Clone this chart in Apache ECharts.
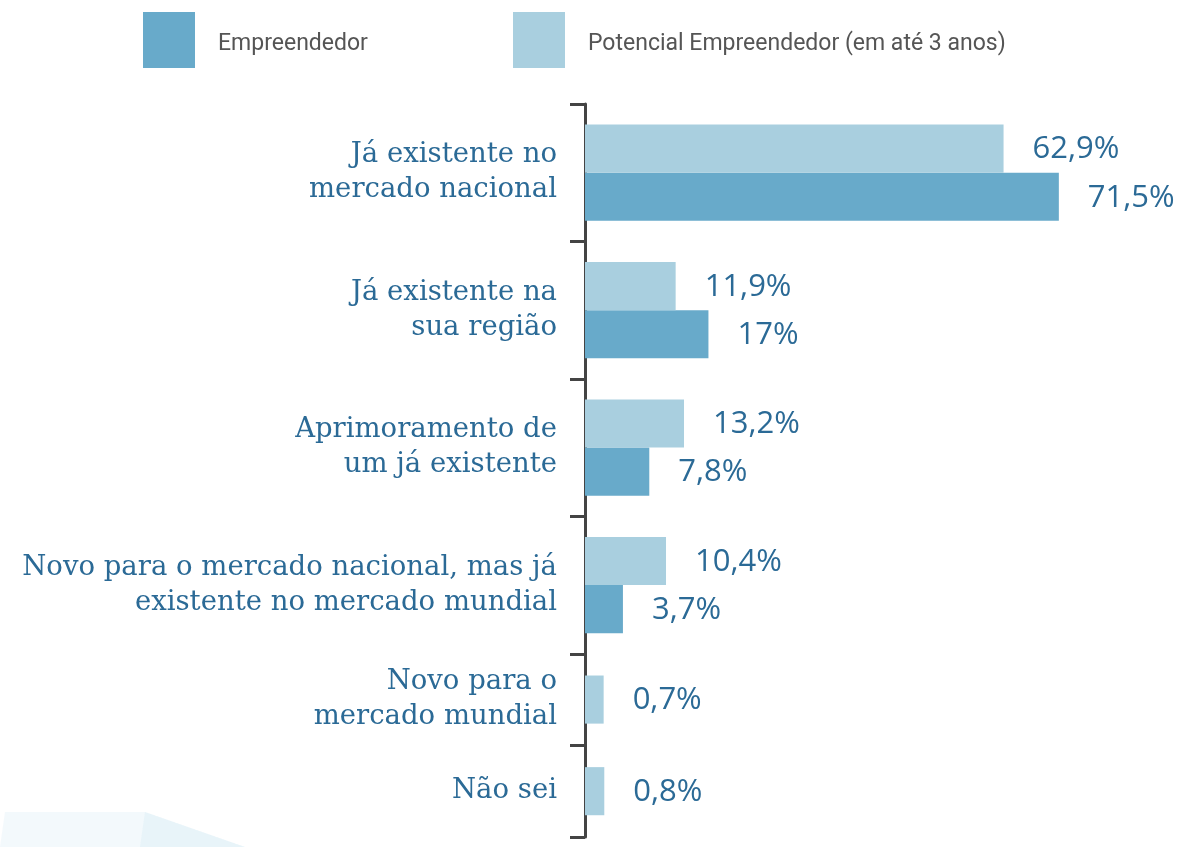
<!DOCTYPE html>
<html>
<head>
<meta charset="utf-8">
<title>Tipo de produto</title>
<script src="https://cdn.jsdelivr.net/npm/echarts@6/dist/echarts.min.js"></script>
<style>
  html, body { margin: 0; padding: 0; background: #fff; }
  #chart { width: 1187px; height: 847px; }
</style>
</head>
<body>
<div id="chart"></div>
<script>
// dados
const categories = [
  'Já existente no\nmercado nacional',
  'Já existente na\nsua região',
  'Aprimoramento de\num já existente',
  'Novo para o mercado nacional, mas já\nexistente no mercado mundial',
  'Novo para o\nmercado mundial',
  'Não sei'
];
const empreendedor = [71.5, 17, 7.8, 3.7, null, null];
const potencial = [62.9, 11.9, 13.2, 10.4, 0.7, 0.8];
const seriesNames = ['Empreendedor', 'Potencial Empreendedor (em até 3 anos)'];

// layout (unidades do eixo y)
const GROUP_SPAN = [3, 3, 3, 3, 2, 2];
const BAR_H = 1.05;
const X_MIN = -2.2;
const X_MAX = 80;

const COLOR_EMP = '#68aaca';
const COLOR_POT = '#a9cfdf';
const TEXT_BLUE = '#2b6a96';

// limites e centros dos grupos
const bounds = [0];
GROUP_SPAN.forEach(s => bounds.push(bounds[bounds.length - 1] + s));
const centers = GROUP_SPAN.map((s, i) => bounds[i] + s / 2);

const potData = [];
const empData = [];
categories.forEach((c, i) => {
  const both = empreendedor[i] != null;
  potData.push([potencial[i], both ? centers[i] - BAR_H / 2 : centers[i]]);
  if (both) empData.push([empreendedor[i], centers[i] + BAR_H / 2]);
});

const fmt = v => String(v).replace('.', ',') + '%';

function makeRender(color) {
  return function (params, api) {
    const v = api.value(0);
    const yc = api.value(1);
    const start = api.coord([X_MIN, yc]);
    const end = api.coord([v, yc]);
    const h = api.size([0, BAR_H])[1];
    return {
      type: 'group',
      children: [
        {
          type: 'rect',
          shape: { x: start[0], y: start[1] - h / 2, width: end[0] - start[0], height: h },
          style: { fill: color }
        },
        {
          type: 'text',
          x: end[0] + 29,
          y: end[1] + 1,
          style: {
            text: fmt(v),
            fill: TEXT_BLUE,
            font: '31px "Open Sans"',
            verticalAlign: 'middle',
            align: 'left'
          }
        }
      ]
    };
  };
}

const chart = echarts.init(document.getElementById('chart'));

const legendBase = {
  top: 12,
  padding: 0,
  itemWidth: 52,
  itemHeight: 56,
  icon: 'rect',
  formatter: '{t|{name}}',
  textStyle: {
    padding: [0, 0, 0, 18],
    rich: {
      t: {
        color: '#555',
        fontFamily: 'Roboto',
        fontSize: 23,
        padding: [8, 0, 0, 0]
      }
    }
  }
};

chart.setOption({
  animation: false,
  legend: [
    Object.assign({}, legendBase, { left: 143, data: [seriesNames[0]] }),
    Object.assign({}, legendBase, { left: 513, data: [seriesNames[1]] })
  ],
  graphic: [
    {
      type: 'polygon',
      silent: true,
      z: -10,
      shape: { points: [[0, 847], [5, 812], [145, 812], [245, 847]] },
      style: { fill: 'rgba(215,236,244,0.3)' }
    },
    {
      type: 'polygon',
      silent: true,
      z: -10,
      shape: { points: [[140, 847], [145, 812], [245, 847]] },
      style: { fill: 'rgba(205,232,242,0.3)' }
    }
  ],
  grid: { left: 585, top: 104, bottom: 10, right: 1187 - 585 - 528.5 },
  xAxis: {
    type: 'value',
    min: X_MIN,
    max: X_MAX,
    show: false
  },
  yAxis: {
    type: 'value',
    inverse: true,
    min: 0,
    max: bounds[bounds.length - 1],
    axisLine: { show: true, onZero: false, lineStyle: { color: '#444', width: 3 } },
    axisTick: {
      show: true,
      length: 15,
      customValues: bounds,
      lineStyle: { color: '#444', width: 3 }
    },
    splitLine: { show: false },
    axisLabel: {
      customValues: centers,
      margin: 28,
      color: TEXT_BLUE,
      fontFamily: 'DejaVu Serif',
      fontSize: 27.5,
      lineHeight: 35,
      align: 'right',
      formatter: v => {
        const i = centers.findIndex(c => Math.abs(c - v) < 1e-6);
        return i >= 0 ? categories[i] : '';
      }
    }
  },
  series: [
    {
      name: seriesNames[0],
      type: 'custom',
      itemStyle: { color: COLOR_EMP },
      renderItem: makeRender(COLOR_EMP),
      encode: { x: 0, y: 1 },
      data: empData
    },
    {
      name: seriesNames[1],
      type: 'custom',
      itemStyle: { color: COLOR_POT },
      renderItem: makeRender(COLOR_POT),
      encode: { x: 0, y: 1 },
      data: potData
    }
  ]
});
</script>
</body>
</html>
